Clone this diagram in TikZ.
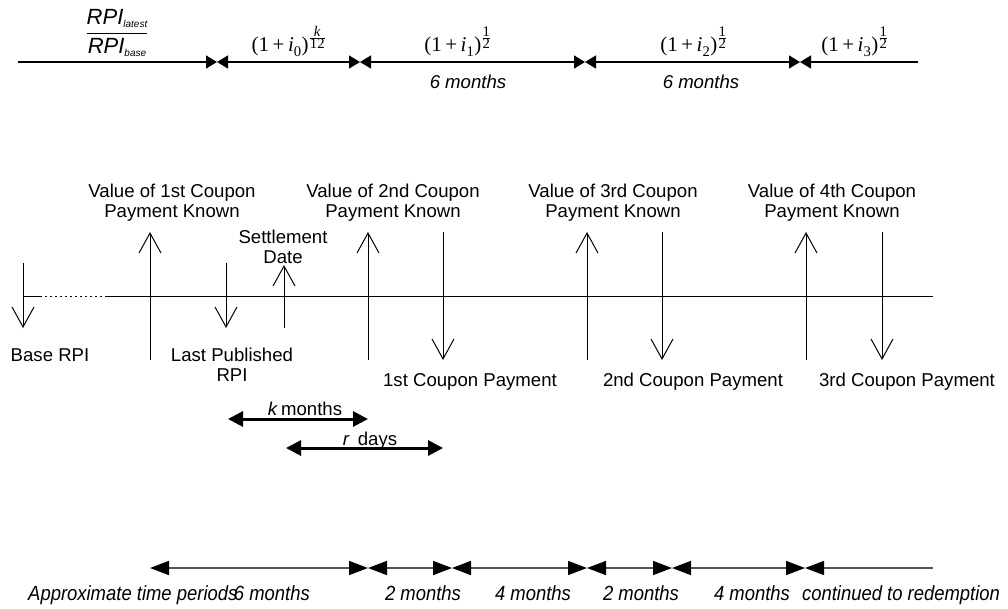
\documentclass[tikz,border=0pt]{standalone}
\usepackage{amsmath}
\usepackage{fontspec}
\setmainfont{Liberation Sans}
\newfontfamily\tms{Liberation Serif}
\usetikzlibrary{arrows.meta}
\newcommand{\rterm}[3]{$\text{\tms(1\,+\,\itshape i\/}_{\text{\tms #1}}\text{\tms)}^{\frac{\scriptstyle\text{\tms #2}}{\scriptstyle\text{\tms #3}}}$}
\newcommand{\rpisub}[1]{\textit{RPI}\raisebox{-3pt}{\fontsize{10}{10}\selectfont\itshape #1}}
\newcommand{\narrow}[1]{\scalebox{0.9}[1]{#1}}
\tikzset{
  lbl/.style={inner sep=0pt, font=\fontsize{18.6}{20}\selectfont, align=center},
  ilbl/.style={inner sep=0pt, font=\fontsize{18.6}{20}\selectfont\itshape},
  nlbl/.style={inner sep=0pt, font=\fontsize{20.5}{22}\selectfont\itshape},
  frm/.style={inner sep=0pt, font=\fontsize{21}{24}\selectfont},
  topline/.style={line width=1.3pt, black},
  ttip/.tip={Triangle[length=11pt,width=13pt]},
  btip/.tip={Triangle[length=19pt,width=14pt,color=black]},
  ktip/.tip={Triangle[length=15pt,width=15pt]},
  botline/.style={line width=1.6pt, draw={rgb,255:red,85;green,85;blue,85}},
  vline/.style={line width=1pt, -{Straight Barb[length=20pt,width=22pt,line width=1pt]}},
  thick arrow/.style={line width=3pt, ktip-ktip},
}
\begin{document}
\begin{tikzpicture}[x=1pt,y=-1pt]
\useasboundingbox (0,0) rectangle (1008,608);

% ---------- top rate line ----------
\foreach \n/\x in {0/18,1/217,2/360,3/585,4/800,5/918}
  \coordinate (t\n) at (\x,62);
\draw[topline,-ttip] (t0) -- (t1);
\draw[topline,ttip-ttip] (t1) -- (t2);
\draw[topline,ttip-ttip] (t2) -- (t3);
\draw[topline,ttip-ttip] (t3) -- (t4);
\draw[topline,ttip-] (t4) -- (t5);

\node[inner sep=0pt, font=\fontsize{22}{24}\selectfont] (rpifrac) at (117,33)
  {$\dfrac{\text{\rpisub{latest}}}{\text{\rpisub{base}}}$};
\node[frm, anchor=base] (f0) at (289,51) {\rterm{0}{\itshape k}{12}};
\node[frm, anchor=base] (f1) at (458,51) {\rterm{1}{1}{2}};
\node[frm, anchor=base] (f2) at (694,51) {\rterm{2}{1}{2}};
\node[frm, anchor=base] (f3) at (855,51) {\rterm{3}{1}{2}};
\node[ilbl, anchor=base] (sm1) at (468,88) {6 months};
\node[ilbl, anchor=base] (sm2) at (701,88) {6 months};

% ---------- main time line ----------
\coordinate (m0) at (23,296);
\coordinate (m1) at (40,296);
\coordinate (m2) at (107,296);
\coordinate (m3) at (933,296);
\draw[line width=1pt] (m0) -- (m1);
\draw[line width=1pt, dash pattern=on 1.5pt off 3.5pt] (m1) -- (m2);
\draw[line width=1pt] (m2) -- (m3);

% down arrows
\coordinate (d1a) at (23,263);  \coordinate (d1b) at (23,328);
\coordinate (d2a) at (226,263); \coordinate (d2b) at (226,328);
\coordinate (d3a) at (443,232); \coordinate (d3b) at (443,360);
\coordinate (d4a) at (662,232); \coordinate (d4b) at (662,360);
\coordinate (d5a) at (882,232); \coordinate (d5b) at (882,360);
\foreach \i in {1,...,5} \draw[vline] (d\i a) -- (d\i b);

% up arrows
\coordinate (u1a) at (150,360); \coordinate (u1b) at (150,232);
\coordinate (u2a) at (368,360); \coordinate (u2b) at (368,232);
\coordinate (u3a) at (587,360); \coordinate (u3b) at (587,232);
\coordinate (u4a) at (806,360); \coordinate (u4b) at (806,232);
\coordinate (u5a) at (284,328); \coordinate (u5b) at (284,265);
\foreach \i in {1,...,5} \draw[vline] (u\i a) -- (u\i b);

% labels
\node[lbl, anchor=north] (v1) at (172,183.5) {Value of 1st Coupon\\Payment Known};
\node[lbl, anchor=north] (v2) at (393,183.5) {Value of 2nd Coupon\\Payment Known};
\node[lbl, anchor=north] (v3) at (613,183.5) {Value of 3rd Coupon\\Payment Known};
\node[lbl, anchor=north] (v4) at (832,183.5) {Value of 4th Coupon\\Payment Known};
\node[lbl, anchor=north] (sd) at (283,229.5) {Settlement\\Date};
\node[lbl, anchor=base] (brpi) at (50,361) {Base RPI};
\node[lbl, anchor=north] (lp) at (232,347.4) {Last Published\\RPI};
\node[lbl, anchor=base] (c1) at (470,386) {1st Coupon Payment};
\node[lbl, anchor=base] (c2) at (693,386) {2nd Coupon Payment};
\node[lbl, anchor=base] (c3) at (907,386) {3rd Coupon Payment};

% k months / r days
\coordinate (ka) at (228,419); \coordinate (kb) at (368,419);
\coordinate (ra) at (286,448); \coordinate (rb) at (443,448);
\draw[thick arrow] (ka) -- (kb);
\draw[thick arrow] (ra) -- (rb);
\node[lbl, anchor=base] (km) at (305,415) {\textit{k}\,months};
\node[lbl, anchor=base] (rd) at (370,445) {\textit{r}\, days};

% ---------- bottom approximate periods ----------
\foreach \n/\x in {0/150,1/368,2/452,3/587,4/672,5/805,6/933}
  \coordinate (b\n) at (\x,568);
\draw[botline,btip-btip] (b0) -- (b1);
\draw[botline,btip-btip] (b1) -- (b2);
\draw[botline,btip-btip] (b2) -- (b3);
\draw[botline,btip-btip] (b3) -- (b4);
\draw[botline,btip-btip] (b4) -- (b5);
\draw[botline,btip-] (b5) -- (b6);

\node[nlbl, anchor=base west] (atp) at (28,600) {\narrow{Approximate time periods}};
\node[nlbl, anchor=base east] (p0) at (310,600) {\narrow{6 months}};
\node[nlbl, anchor=base] (p1) at (423,600) {\narrow{2 months}};
\node[nlbl, anchor=base] (p2) at (533,600) {\narrow{4 months}};
\node[nlbl, anchor=base] (p3) at (641,600) {\narrow{2 months}};
\node[nlbl, anchor=base] (p4) at (752,600) {\narrow{4 months}};
\node[nlbl, anchor=base] (p5) at (901,600) {\narrow{continued to redemption}};
\end{tikzpicture}
\end{document}
